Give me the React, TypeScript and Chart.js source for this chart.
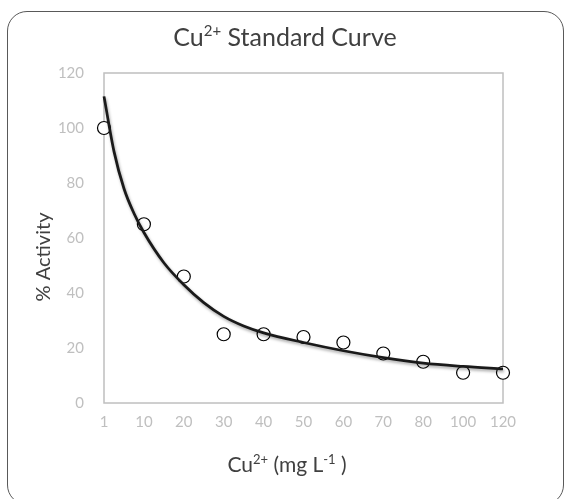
import React, { useEffect, useRef } from "react";
import { Chart, registerables } from "chart.js";

Chart.register(...registerables);

// ---- data ----
const categories = ["1", "10", "20", "30", "40", "50", "60", "70", "80", "100", "120"];
const activity = [100, 65, 46, 25, 25, 24, 22, 18, 15, 11, 11];
// fitted trend curve (position along category axis, value)
const fitPos = [0, 0.25, 0.5, 0.75, 1, 1.5, 2, 2.5, 3, 3.5, 4, 5, 6, 7, 8, 9, 10];
const fitVal = [111.5, 91.5, 78, 69, 62, 51, 43, 36.5, 31.5, 28, 25.5, 22, 19, 16.5, 14.5, 13.3, 12.4];
const yTicks = [0, 20, 40, 60, 80, 100, 120];

const FONT = "Lato, 'Open Sans', sans-serif";
const TEXT = "#404040";
const TICK = "#BFBFBF";

type Seg = { t: string; sup?: boolean };

function drawRich(ctx: CanvasRenderingContext2D, segs: Seg[], x: number, y: number, size: number, rot: number) {
  ctx.save();
  ctx.translate(x, y);
  ctx.rotate(rot);
  ctx.fillStyle = TEXT;
  ctx.textBaseline = "alphabetic";
  ctx.textAlign = "left";
  const supSize = Math.round(size * 0.6);
  let total = 0;
  const widths = segs.map((s) => {
    ctx.font = `${s.sup ? supSize : size}px ${FONT}`;
    const w = ctx.measureText(s.t).width;
    total += w;
    return w;
  });
  let cx = -total / 2;
  const base = size * 0.35;
  segs.forEach((s, i) => {
    ctx.font = `${s.sup ? supSize : size}px ${FONT}`;
    ctx.fillText(s.t, cx, s.sup ? base - size * 0.4 : base);
    cx += widths[i];
  });
  ctx.restore();
}

const textPlugin = {
  id: "richTexts",
  afterDraw(chart: any) {
    const ctx = chart.ctx as CanvasRenderingContext2D;
    drawRich(ctx, [{ t: "Cu" }, { t: "2+", sup: true }, { t: " Standard Curve" }], 285, 37, 25, 0);
    drawRich(ctx, [{ t: "% Activity" }], 43, 257, 20, -Math.PI / 2);
    drawRich(ctx, [{ t: "Cu" }, { t: "2+", sup: true }, { t: " (mg L" }, { t: "-1", sup: true }, { t: " )" }], 287, 465, 21, 0);
  },
};

const framePlugin = {
  id: "plotFrame",
  beforeDatasetsDraw(chart: any) {
    const { ctx, chartArea: a } = chart;
    ctx.save();
    ctx.strokeStyle = TICK;
    ctx.lineWidth = 1.5;
    ctx.strokeRect(a.left, a.top, a.right - a.left, a.bottom - a.top);
    ctx.restore();
  },
  beforeDatasetDraw(chart: any, args: any) {
    if (args.index === 0) {
      const ctx = chart.ctx;
      ctx.save();
      ctx.shadowColor = "rgba(0,0,0,0.35)";
      ctx.shadowBlur = 3;
      ctx.shadowOffsetX = 1;
      ctx.shadowOffsetY = 2;
    }
  },
  afterDatasetDraw(chart: any, args: any) {
    if (args.index === 0) chart.ctx.restore();
  },
};

export default function App() {
  const ref = useRef<HTMLCanvasElement | null>(null);
  useEffect(() => {
    if (!ref.current) return;
    const chart = new Chart(ref.current, {
      type: "scatter",
      data: {
        datasets: [
          {
            label: "fit",
            data: fitPos.map((p, i) => ({ x: p, y: fitVal[i] })),
            showLine: true,
            borderColor: "#1a1a1a",
            borderWidth: 2.75,
            pointRadius: 0,
            cubicInterpolationMode: "monotone",
            fill: false,
            clip: false,
          } as any,
          {
            label: "Activity",
            data: activity.map((v, i) => ({ x: i, y: v })),
            showLine: false,
            pointStyle: "circle",
            pointRadius: 6.5,
            borderColor: "#000000",
            borderWidth: 1.2,
            backgroundColor: "#ffffff",
            clip: false,
          } as any,
        ],
      },
      options: {
        animation: false,
        responsive: false,
        layout: { padding: { top: 73, left: 0, right: 67, bottom: 0 } },
        plugins: {
          legend: { display: false },
          title: { display: false },
          tooltip: { enabled: false },
        },
        scales: {
          x: {
            type: "linear",
            min: 0,
            max: 10,
            afterFit: (s: any) => {
              s.height = 96;
            },
            grid: { display: false, drawTicks: false },
            border: { display: false },
            afterBuildTicks: (s: any) => {
              s.ticks = categories.map((_, i) => ({ value: i }));
            },
            ticks: {
              autoSkip: false,
              maxRotation: 0,
              padding: 10,
              color: TICK,
              font: { family: FONT, size: 15 },
              callback: (v: any) => categories[Math.round(Number(v))],
            },
          },
          y: {
            type: "linear",
            min: 0,
            max: 120,
            afterFit: (s: any) => {
              s.width = 104;
            },
            afterBuildTicks: (s: any) => {
              s.ticks = yTicks.map((v) => ({ value: v }));
            },
            grid: { display: false, drawTicks: false },
            border: { display: false },
            ticks: {
              padding: 20,
              color: TICK,
              font: { family: FONT, size: 15 },
            },
          },
        },
      } as any,
      plugins: [framePlugin, textPlugin],
    });
    return () => chart.destroy();
  }, []);

  return (
    <div style={{ position: "fixed", left: 0, top: 0, width: 570, height: 499, overflow: "hidden", background: "#fff" }}>
      <div
        style={{
          position: "absolute",
          left: 7,
          top: 11,
          width: 555,
          height: 492,
          border: "1px solid #595959",
          borderRadius: 20,
        }}
      />
      <canvas ref={ref} width={570} height={499} style={{ position: "absolute", left: 0, top: 0, width: 570, height: 499 }} />
    </div>
  );
}
